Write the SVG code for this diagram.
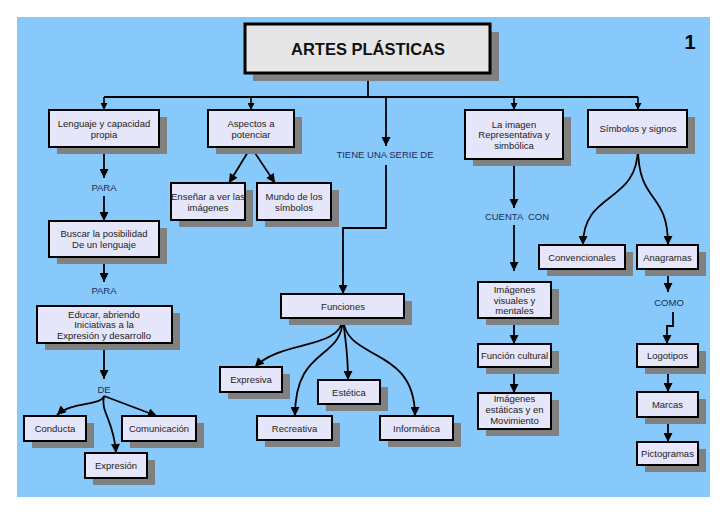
<svg xmlns="http://www.w3.org/2000/svg" width="728" height="514" viewBox="0 0 728 514">
<defs>
<marker id="ah" viewBox="0 0 10 10" refX="10" refY="5" markerWidth="11" markerHeight="9" markerUnits="userSpaceOnUse" orient="auto"><path d="M0,0 L10,5 L0,10 z" fill="#000"/></marker>
<marker id="ahs" viewBox="0 0 10 10" refX="10" refY="5" markerWidth="9" markerHeight="7" markerUnits="userSpaceOnUse" orient="auto"><path d="M0,0 L10,5 L0,10 z" fill="#000"/></marker>
</defs>
<style>
.sh{fill:#808080}
.bx{fill:#e6e6fa;stroke:#000;stroke-width:2}
.t{font-family:"Liberation Sans",Arial,sans-serif;font-size:9.5px;fill:#222;text-anchor:middle}
.lb{font-family:"Liberation Sans",Arial,sans-serif;font-size:9.5px;fill:#1c2c5c;text-anchor:middle}
.c{fill:none;stroke:#000;stroke-width:1.8}
.ca{fill:none;stroke:#000;stroke-width:1.8;marker-end:url(#ah)}
.cs{fill:none;stroke:#000;stroke-width:1.6;marker-end:url(#ahs)}
</style>
<rect x="0" y="0" width="728" height="514" fill="#fff"/>
<rect x="17" y="17" width="693" height="480" fill="#87c9fa"/>
<text x="690" y="49" font-family="Liberation Sans,Arial,sans-serif" font-size="20" font-weight="bold" fill="#000" text-anchor="middle">1</text>

<g id="connectors">
<path class="c" d="M368,73 V97"/>
<path class="c" d="M104,97 H638"/>
<path class="cs" d="M104,97 V110"/>
<path class="cs" d="M251,97 V110"/>
<path class="cs" d="M514,97 V110"/>
<path class="cs" d="M638,97 V110"/>
<path class="ca" d="M386,97 V146"/>
<path class="ca" d="M386,165 V228 H343 V294"/>
<path class="ca" d="M104,147 V178"/>
<path class="ca" d="M104,196 V221"/>
<path class="ca" d="M104,257 V282"/>
<path class="ca" d="M104,343 V379"/>
<path class="ca" d="M104,396 C101,406 72,401 57,415"/>
<path class="ca" d="M104,396 L157,416"/>
<path class="ca" d="M104,396 C100,412 114,420 116,453"/>
<path class="ca" d="M251,147 L229,183"/>
<path class="ca" d="M251,147 L275,183"/>
<path class="ca" d="M343,318 C341,350 280,340 255,367"/>
<path class="ca" d="M343,318 C342,362 295,345 295,416"/>
<path class="ca" d="M343,318 C345,340 348,350 348,380"/>
<path class="ca" d="M343,318 C345,362 415,345 415,416"/>
<path class="ca" d="M514,159 V208"/>
<path class="ca" d="M514,225 V271"/>
<path class="ca" d="M514,318 V344"/>
<path class="ca" d="M514,367 V393"/>
<path class="ca" d="M638,147 C638,205 583,190 583,245"/>
<path class="ca" d="M638,147 C638,205 668,190 668,245"/>
<path class="ca" d="M668,269 V292"/>
<path class="ca" d="M673,312 V326 H667 V344"/>
<path class="ca" d="M668,367 V392"/>
<path class="ca" d="M668,417 V442"/>
</g>

<g id="labels">
<text class="lb" x="104" y="190.5">PARA</text>
<text class="lb" x="104" y="293.5">PARA</text>
<text class="lb" x="104" y="392.5">DE</text>
<text class="lb" x="385" y="158" font-size="9">TIENE UNA SERIE DE</text>
<text class="lb" x="517" y="219.5" xml:space="preserve">CUENTA  CON</text>
<text class="lb" x="669" y="305.5">COMO</text>
</g>

<g id="title">
<rect x="253" y="32" width="246" height="49" class="sh"/>
<rect x="245" y="24" width="245" height="49" fill="#e6e6e6" stroke="#000" stroke-width="3"/>
<text x="368" y="55" font-family="Liberation Sans,Arial,sans-serif" font-size="16.5" font-weight="bold" fill="#111" text-anchor="middle">ARTES PLÁSTICAS</text>
</g>

<g id="lenguaje">
<rect x="57" y="117" width="110" height="37" class="sh"/>
<rect x="49" y="110" width="110" height="37" class="bx"/>
<text class="t" x="104" y="126.5">Lenguaje y capacidad</text>
<text class="t" x="104" y="137.5">propia</text>
</g>

<g id="aspectos">
<rect x="216" y="117" width="86" height="37" class="sh"/>
<rect x="208" y="110" width="86" height="37" class="bx"/>
<text class="t" x="251" y="126.5">Aspectos a</text>
<text class="t" x="251" y="137.5">potenciar</text>
</g>

<g id="imagen">
<rect x="473" y="117" width="98" height="49" class="sh"/>
<rect x="465" y="110" width="98" height="49" class="bx"/>
<text class="t" x="514" y="127.5">La imagen</text>
<text class="t" x="514" y="138">Representativa y</text>
<text class="t" x="514" y="148.5">simbólica</text>
</g>

<g id="simbolos">
<rect x="596" y="117" width="99" height="37" class="sh"/>
<rect x="588" y="110" width="99" height="37" class="bx"/>
<text class="t" x="638" y="131.5">Símbolos y signos</text>
</g>

<g id="ensenar">
<rect x="179" y="190" width="74" height="37" class="sh"/>
<rect x="171" y="183" width="74" height="37" class="bx"/>
<text class="t" x="208" y="199.5">Enseñar a ver las</text>
<text class="t" x="208" y="210.5">imágenes</text>
</g>

<g id="mundo">
<rect x="265" y="190" width="74" height="37" class="sh"/>
<rect x="257" y="183" width="74" height="37" class="bx"/>
<text class="t" x="294" y="199.5">Mundo de los</text>
<text class="t" x="294" y="210.5">símbolos</text>
</g>

<g id="buscar">
<rect x="57" y="228" width="110" height="36" class="sh"/>
<rect x="49" y="221" width="110" height="36" class="bx"/>
<text class="t" x="104" y="236.5">Buscar la posibilidad</text>
<text class="t" x="104" y="247.5">De un lenguaje</text>
</g>

<g id="educar">
<rect x="45" y="313" width="135" height="37" class="sh"/>
<rect x="37" y="306" width="135" height="37" class="bx"/>
<text class="t" x="104" y="317.5">Educar, abriendo</text>
<text class="t" x="104" y="328">Iniciativas a la</text>
<text class="t" x="104" y="338.5">Expresión y desarrollo</text>
</g>

<g id="conducta">
<rect x="32" y="423" width="62" height="25" class="sh"/>
<rect x="24" y="416" width="62" height="25" class="bx"/>
<text class="t" x="55" y="431.5">Conducta</text>
</g>

<g id="comunicacion">
<rect x="130" y="423" width="74" height="25" class="sh"/>
<rect x="122" y="416" width="74" height="25" class="bx"/>
<text class="t" x="159" y="431.5">Comunicación</text>
</g>

<g id="expresion">
<rect x="93" y="460" width="62" height="25" class="sh"/>
<rect x="85" y="453" width="62" height="25" class="bx"/>
<text class="t" x="116" y="469">Expresión</text>
</g>

<g id="funciones">
<rect x="289" y="301" width="123" height="24" class="sh"/>
<rect x="281" y="294" width="123" height="24" class="bx"/>
<text class="t" x="343" y="309.5">Funciones</text>
</g>

<g id="expresiva">
<rect x="228" y="374" width="62" height="25" class="sh"/>
<rect x="220" y="367" width="62" height="25" class="bx"/>
<text class="t" x="251" y="382.5">Expresiva</text>
</g>

<g id="estetica">
<rect x="326" y="387" width="62" height="24" class="sh"/>
<rect x="318" y="380" width="62" height="24" class="bx"/>
<text class="t" x="349" y="395.5">Estética</text>
</g>

<g id="recreativa">
<rect x="265" y="423" width="75" height="24" class="sh"/>
<rect x="257" y="416" width="75" height="24" class="bx"/>
<text class="t" x="294.5" y="431.5">Recreativa</text>
</g>

<g id="informatica">
<rect x="388" y="423" width="73" height="24" class="sh"/>
<rect x="380" y="416" width="73" height="24" class="bx"/>
<text class="t" x="416.5" y="431.5">Informática</text>
</g>

<g id="convencionales">
<rect x="547" y="252" width="86" height="24" class="sh"/>
<rect x="539" y="245" width="86" height="24" class="bx"/>
<text class="t" x="582" y="260.5">Convencionales</text>
</g>

<g id="anagramas">
<rect x="645" y="252" width="61" height="24" class="sh"/>
<rect x="637" y="245" width="61" height="24" class="bx"/>
<text class="t" x="667.5" y="260.5">Anagramas</text>
</g>

<g id="visuales">
<rect x="486" y="289" width="73" height="36" class="sh"/>
<rect x="478" y="282" width="73" height="36" class="bx"/>
<text class="t" x="514.5" y="292.5">Imágenes</text>
<text class="t" x="514.5" y="303.5">visuales y</text>
<text class="t" x="514.5" y="314">mentales</text>
</g>

<g id="cultural">
<rect x="486" y="351" width="73" height="23" class="sh"/>
<rect x="478" y="344" width="73" height="23" class="bx"/>
<text class="t" x="514.5" y="359">Función cultural</text>
</g>

<g id="estaticas">
<rect x="486" y="400" width="73" height="36" class="sh"/>
<rect x="478" y="393" width="73" height="36" class="bx"/>
<text class="t" x="514.5" y="401.5">Imágenes</text>
<text class="t" x="514.5" y="413">estáticas y en</text>
<text class="t" x="514.5" y="424">Movimiento</text>
</g>

<g id="logotipos">
<rect x="645" y="351" width="61" height="23" class="sh"/>
<rect x="637" y="344" width="61" height="23" class="bx"/>
<text class="t" x="667.5" y="359">Logotipos</text>
</g>

<g id="marcas">
<rect x="645" y="399" width="61" height="25" class="sh"/>
<rect x="637" y="392" width="61" height="25" class="bx"/>
<text class="t" x="667.5" y="407.5">Marcas</text>
</g>

<g id="pictogramas">
<rect x="645" y="449" width="61" height="23" class="sh"/>
<rect x="637" y="442" width="61" height="23" class="bx"/>
<text class="t" x="667.5" y="457">Pictogramas</text>
</g>
</svg>
